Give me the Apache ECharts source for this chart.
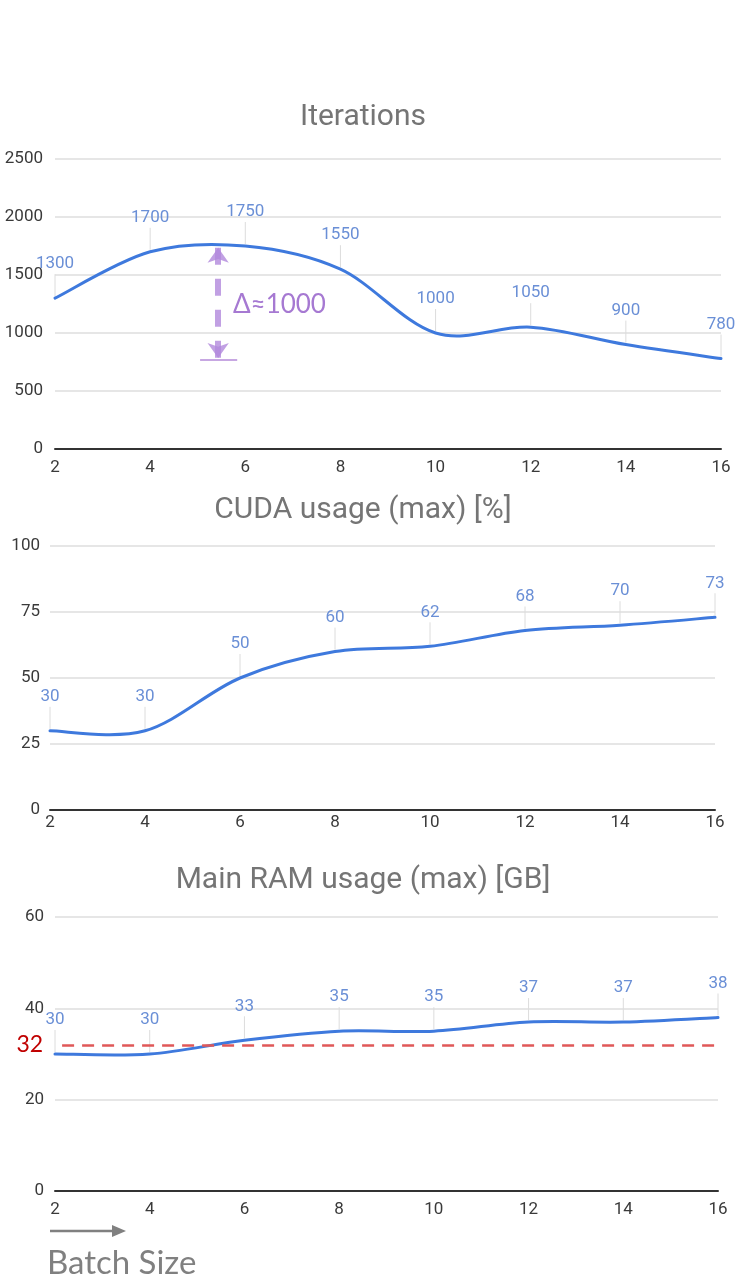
<!DOCTYPE html>
<html>
<head>
<meta charset="utf-8">
<script src="https://cdn.jsdelivr.net/npm/echarts@6/dist/echarts.min.js"></script>
<style>
html,body{margin:0;padding:0;background:#fff;}
#chart{width:738px;height:1277px;}
</style>
</head>
<body>
<div id="chart"></div>
<script>
// ---- Data ----
const batchSizes = [2, 4, 6, 8, 10, 12, 14, 16];
const iterations = [1300, 1700, 1750, 1550, 1000, 1050, 900, 780];
const cudaUsage = [30, 30, 50, 60, 62, 68, 70, 73];
const ramUsage = [30, 30, 33, 35, 35, 37, 37, 38];
const titles = ['Iterations', 'CUDA usage (max) [%]', 'Main RAM usage (max) [GB]'];
const iterAxis = { min: 0, max: 2500, interval: 500 };
const cudaAxis = { min: 0, max: 100, interval: 25 };
const ramAxis = { min: 0, max: 60, interval: 20 };
const xAxisRange = { min: 2, max: 16, interval: 2 };
// annotation values (data space)
const deltaX = 5.43, deltaTop = 1735, deltaBottom = 785, deltaBase = 772;
const deltaText = 'Δ≈1000';
const ramLimit = 32;
const xLabel = 'Batch Size';

const LINE = '#3e79dd';
const LABEL = '#6a8fd6';
const FONT = 'Roboto, "Liberation Sans", Arial, sans-serif';
const CAL = 'Lato, "Open Sans", sans-serif';

function pts(vals) { return batchSizes.map((b, i) => [b, vals[i]]); }

// value labels with thin leader lines
function leaderSeries(idx, vals) {
  return {
    type: 'custom', xAxisIndex: idx, yAxisIndex: idx, clip: false, silent: true, z: 1,
    data: pts(vals),
    renderItem: function (params, api) {
      const p = api.coord([api.value(0), api.value(1)]);
      return {
        type: 'group',
        children: [
          { type: 'line', shape: { x1: p[0], y1: p[1] - 2, x2: p[0], y2: p[1] - 24 },
            style: { stroke: '#dcdcdc', lineWidth: 1 } },
          { type: 'text', x: p[0], y: p[1] - 34,
            style: { text: String(api.value(1)), fill: LABEL, fontSize: 17, fontFamily: FONT,
                     align: 'center', verticalAlign: 'middle' } }
        ]
      };
    }
  };
}

// smooth (Catmull-Rom style) curve through the data points, positioned via the axes
function curveSeries(idx, vals) {
  return {
    type: 'custom', xAxisIndex: idx, yAxisIndex: idx, clip: false, silent: true, z: 3,
    data: pts(vals),
    renderItem: function (params, api) {
      if (params.dataIndex !== 0) return { type: 'group', children: [] };
      const P = batchSizes.map((b, i) => api.coord([b, vals[i]]));
      let d = 'M' + P[0][0] + ',' + P[0][1];
      for (let i = 0; i < P.length - 1; i++) {
        const p0 = P[Math.max(i - 1, 0)], p1 = P[i], p2 = P[i + 1], p3 = P[Math.min(i + 2, P.length - 1)];
        const c1 = [p1[0] + (p2[0] - p0[0]) / 6, p1[1] + (p2[1] - p0[1]) / 6];
        const c2 = [p2[0] - (p3[0] - p1[0]) / 6, p2[1] - (p3[1] - p1[1]) / 6];
        d += ' C' + c1[0] + ',' + c1[1] + ' ' + c2[0] + ',' + c2[1] + ' ' + p2[0] + ',' + p2[1];
      }
      return { type: 'path', shape: { pathData: d },
               style: { stroke: LINE, lineWidth: 3, fill: 'none', lineJoin: 'round', lineCap: 'round' } };
    }
  };
}

// host series (invisible line) for annotations
function hostSeries(idx, vals, extra) {
  return Object.assign({
    type: 'line', xAxisIndex: idx, yAxisIndex: idx, data: pts(vals),
    showSymbol: false, symbol: 'none', silent: true, z: 2,
    lineStyle: { color: LINE, width: 0, opacity: 0 }
  }, extra || {});
}

const grids = [
  { left: 55, right: 17, top: 159, height: 290 },
  { left: 50, right: 23, top: 546, height: 264 },
  { left: 55, right: 20, top: 917, height: 274 }
];
const yRanges = [iterAxis, cudaAxis, ramAxis];
const xMargins = [10, 4, 10];
const yMargins = [12, 10, 11];

const chart = echarts.init(document.getElementById('chart'), null, { renderer: 'canvas' });
chart.setOption({
  animation: false,
  backgroundColor: '#fff',
  title: [
    { text: titles[0], left: 363, top: 102 },
    { text: titles[1], left: 363, top: 495 },
    { text: titles[2], left: 363, top: 865 }
  ].map(t => Object.assign(t, {
    textAlign: 'center', padding: 0,
    textStyle: { color: '#757575', fontSize: 30, fontWeight: 'normal', fontFamily: FONT }
  })),
  grid: grids,
  xAxis: grids.map((g, i) => ({
    type: 'value', gridIndex: i, min: xAxisRange.min, max: xAxisRange.max, interval: xAxisRange.interval,
    axisLine: { show: true, onZero: false, lineStyle: { color: '#333', width: 2 } },
    axisTick: { show: false }, splitLine: { show: false },
    axisLabel: { color: '#3a3a3a', fontSize: 17, fontFamily: FONT, margin: xMargins[i] }
  })),
  yAxis: grids.map((g, i) => ({
    type: 'value', gridIndex: i, min: yRanges[i].min, max: yRanges[i].max, interval: yRanges[i].interval,
    axisLine: { show: false }, axisTick: { show: false },
    splitLine: { show: true, lineStyle: { color: '#dedede', width: 1.5 } },
    axisLabel: { color: '#3a3a3a', fontSize: 17, fontFamily: FONT, margin: yMargins[i],
                 formatter: v => String(v) }
  })),
  series: [
    leaderSeries(0, iterations),
    curveSeries(0, iterations),
    hostSeries(0, iterations, {
      markLine: {
        silent: true, animation: false,
        label: { show: false },
        data: [
          [
            { coord: [deltaX, deltaTop], symbol: 'arrow', symbolSize: [16, 15],
              lineStyle: { color: 'rgba(178,136,220,0.8)', width: 6, type: [17, 14] } },
            { coord: [deltaX, deltaBottom], symbol: 'arrow', symbolSize: [16, 15] }
          ],
          [
            { coord: [deltaX - 0.38, deltaBase], symbol: 'none',
              lineStyle: { color: '#b48ad9', width: 1.5, type: 'solid' } },
            { coord: [deltaX + 0.4, deltaBase], symbol: 'none' }
          ]
        ]
      },
      markPoint: {
        silent: true, animation: false,
        data: [{
          coord: [deltaX + 0.31, 1241], symbol: 'circle', symbolSize: 0,
          label: { show: true, position: 'inside', formatter: deltaText, align: 'left', verticalAlign: 'middle',
                   color: '#a679d2', fontSize: 26, fontFamily: CAL }
        }]
      }
    }),
    leaderSeries(1, cudaUsage),
    curveSeries(1, cudaUsage),
    leaderSeries(2, ramUsage),
    curveSeries(2, ramUsage),
    hostSeries(2, ramUsage, {
      markLine: {
        silent: true, animation: false, symbol: 'none',
        lineStyle: { color: '#e05858', width: 2.5, type: [12, 8] },
        label: { show: true, position: 'start', formatter: String(ramLimit), distance: 19,
                 color: '#c00000', fontSize: 23, fontFamily: CAL },
        data: [[{ coord: [2.15, ramLimit] }, { coord: [16, ramLimit] }]]
      }
    })
  ],
  graphic: [
    { type: 'line', shape: { x1: 50, y1: 1231, x2: 114, y2: 1231 },
      style: { stroke: '#808080', lineWidth: 2.5 } },
    { type: 'polygon', shape: { points: [[112, 1225], [126, 1231], [112, 1237]] },
      style: { fill: '#808080' } },
    { type: 'text', x: 47, y: 1263,
      style: { text: xLabel, fill: '#808080', fontSize: 33, fontFamily: CAL,
               align: 'left', verticalAlign: 'middle' } }
  ]
});
</script>
</body>
</html>
